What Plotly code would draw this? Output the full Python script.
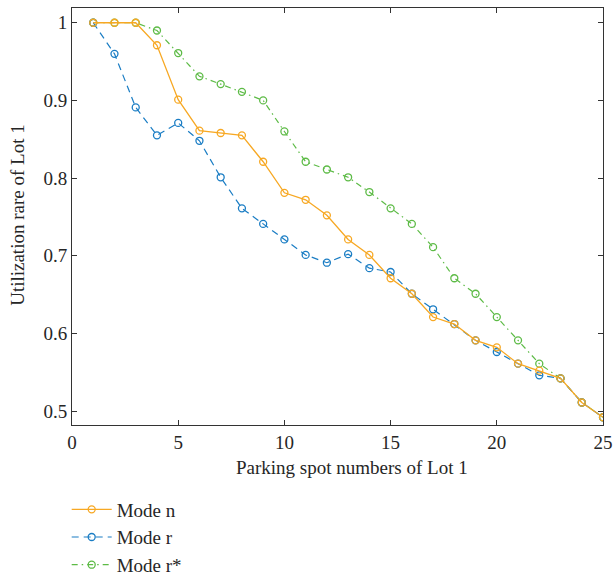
import plotly.graph_objects as go

spots = list(range(1, 26))
mode_n = [1.0, 1.0, 1.0, 0.971, 0.901, 0.861, 0.858, 0.855, 0.821, 0.781, 0.772, 0.752, 0.721,
          0.701, 0.671, 0.651, 0.621, 0.612, 0.591, 0.582, 0.561, 0.552, 0.542, 0.511, 0.492]
mode_r = [1.0, 0.960, 0.891, 0.855, 0.871, 0.848, 0.801, 0.761, 0.741, 0.721, 0.701, 0.691, 0.702,
          0.684, 0.679, 0.651, 0.631, 0.612, 0.591, 0.576, 0.561, 0.546, 0.542, 0.511, 0.492]
mode_rs = [1.0, 1.0, 1.0, 0.990, 0.961, 0.931, 0.921, 0.911, 0.900, 0.860, 0.821, 0.811, 0.801,
           0.782, 0.761, 0.741, 0.711, 0.671, 0.651, 0.621, 0.591, 0.561, 0.542, 0.511, 0.492]
names = ["Mode n", "Mode r", "Mode r*"]
x_title = "Parking spot numbers of Lot 1"
y_title = "Utilization rare of Lot 1"

FONT = "Liberation Serif"
TXT = "#262626"

fig = go.Figure()
fig.add_trace(go.Scatter(x=spots, y=mode_rs, name=names[2], mode="lines+markers",
                         line=dict(color="#5DBB46", width=1.2, dash="6px,4px,1.5px,4px"),
                         marker=dict(symbol="circle-open", size=7, color="#5DBB46", line=dict(width=1.3))))
fig.add_trace(go.Scatter(x=spots, y=mode_r, name=names[1], mode="lines+markers",
                         line=dict(color="#1A7DC4", width=1.2, dash="7px,5px"),
                         marker=dict(symbol="circle-open", size=7, color="#1A7DC4", line=dict(width=1.3))))
fig.add_trace(go.Scatter(x=spots, y=mode_n, name=names[0], mode="lines+markers",
                         line=dict(color="#F7A823", width=1.3),
                         marker=dict(symbol="circle-open", size=7, color="#F7A823", line=dict(width=1.3))))

axis_common = dict(showline=True, linecolor="#333333", linewidth=1, mirror="ticks",
                   ticks="inside", ticklen=5, tickcolor="#333333", showgrid=False, zeroline=False,
                   tickfont=dict(family=FONT, size=19, color=TXT))

fig.update_xaxes(range=[0, 25], tickvals=[0, 5, 10, 15, 20, 25], **axis_common)
fig.update_yaxes(range=[0.482, 1.019], tickvals=[0.5, 0.6, 0.7, 0.8, 0.9, 1.0],
                 ticktext=["0.5", "0.6", "0.7", "0.8", "0.9", "1"], **axis_common)

fig.add_annotation(text=x_title, xref="paper", yref="paper", x=0.527, y=-0.103,
                   xanchor="center", yanchor="middle", showarrow=False,
                   font=dict(family=FONT, size=19, color=TXT))
fig.add_annotation(text=y_title, xref="paper", yref="paper", x=-0.1017, y=0.504,
                   xanchor="center", yanchor="middle", showarrow=False, textangle=-90,
                   font=dict(family=FONT, size=19, color=TXT))

fig.update_layout(
    width=613, height=577,
    margin=dict(l=72, r=10, t=8, b=152, autoexpand=False),
    plot_bgcolor="white", paper_bgcolor="white",
    font=dict(family=FONT, color=TXT),
    legend=dict(x=-0.01, y=-0.157, xanchor="left", yanchor="top", traceorder="reversed",
                font=dict(family=FONT, size=19, color=TXT), bgcolor="rgba(0,0,0,0)",
                itemwidth=40, tracegroupgap=0),
    showlegend=True,
)

fig.write_html("out.html")
